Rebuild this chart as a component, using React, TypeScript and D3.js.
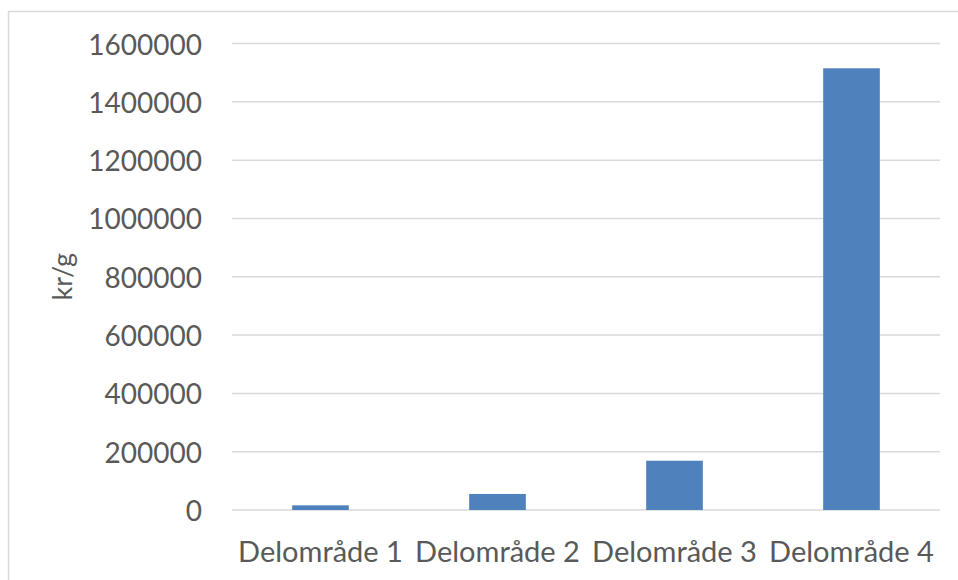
import React from "react";
import * as d3 from "d3";

const categories: string[] = ["Delområde 1", "Delområde 2", "Delområde 3", "Delområde 4"];
const values: number[] = [16000, 55000, 169000, 1515000];
const yTicks: number[] = [0, 200000, 400000, 600000, 800000, 1000000, 1200000, 1400000, 1600000];
const yTitle = "kr/g";

const W = 958;
const H = 580;
const plot = { left: 232, right: 940, top: 43.5, bottom: 510 };
const FONT = "Lato, 'Open Sans', sans-serif";
const TEXT = "#595959";
const GRID = "#D9D9D9";
const BAR = "#4F81BD";

export default function App() {
  const x = d3
    .scaleBand<string>()
    .domain(categories)
    .range([plot.left, plot.right])
    .paddingInner(0.68)
    .paddingOuter(0.34);
  const y = d3.scaleLinear().domain([0, 1600000]).range([plot.bottom, plot.top]);
  const band = (plot.right - plot.left) / categories.length;

  return (
    <svg
      width={W}
      height={H}
      style={{ position: "absolute", left: 0, top: 0, background: "#fff" }}
    >
      <rect x={8.5} y={11.5} width={W + 20} height={H + 20} fill="#fff" stroke={GRID} strokeWidth={1.5} />
      {yTicks.map((t) => (
        <g key={t}>
          <line x1={plot.left} x2={plot.right} y1={y(t)} y2={y(t)} stroke={GRID} strokeWidth={1.5} />
          <text
            x={202}
            y={y(t)}
            textAnchor="end"
            dominantBaseline="central"
            fontFamily={FONT}
            fontSize={28}
            fill={TEXT}
          >
            {t}
          </text>
        </g>
      ))}
      {categories.map((c, i) => (
        <rect
          key={c}
          x={x(c)}
          y={y(values[i])}
          width={x.bandwidth()}
          height={plot.bottom - y(values[i])}
          fill={BAR}
        />
      ))}
      {categories.map((c, i) => (
        <text
          key={c}
          x={plot.left + band * (i + 0.5)}
          y={562}
          textAnchor="middle"
          fontFamily={FONT}
          fontSize={29}
          fill={TEXT}
        >
          {c}
        </text>
      ))}
      <text
        transform={`translate(72, ${(plot.top + plot.bottom) / 2}) rotate(-90)`}
        textAnchor="middle"
        fontFamily={FONT}
        fontSize={27}
        fill={TEXT}
      >
        {yTitle}
      </text>
    </svg>
  );
}
